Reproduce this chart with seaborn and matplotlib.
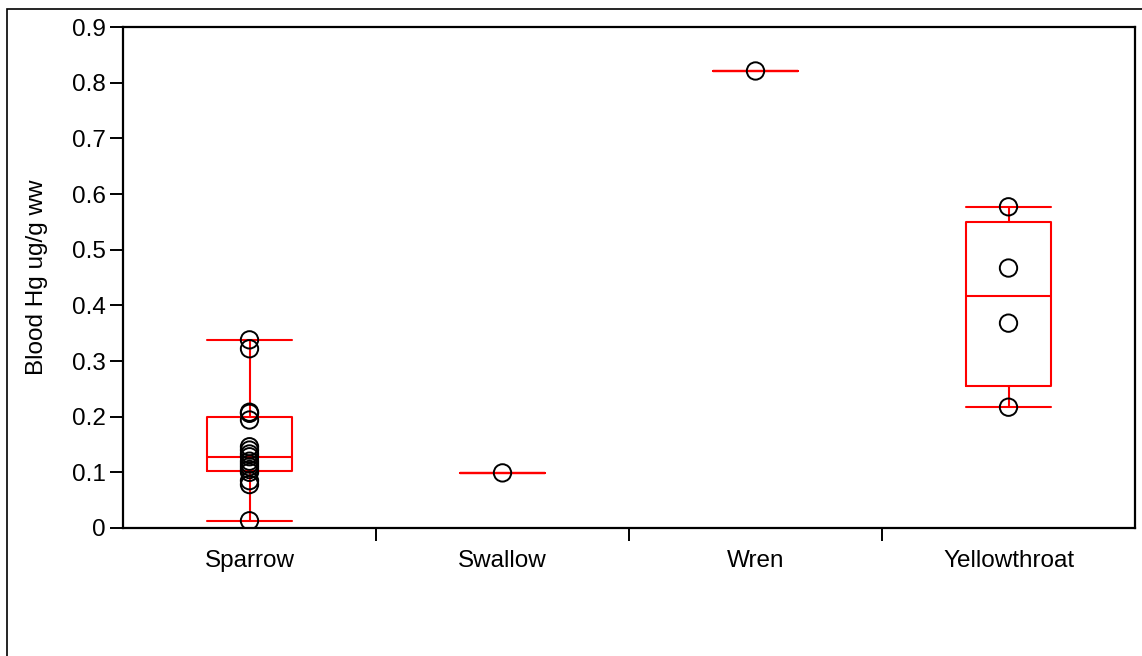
import numpy as np
import pandas as pd
import seaborn as sns
import matplotlib.pyplot as plt
from matplotlib.patches import Rectangle

species = ["Sparrow", "Swallow", "Wren", "Yellowthroat"]
sparrow = [0.013, 0.078, 0.085, 0.100, 0.105, 0.110, 0.115, 0.120, 0.128,
           0.133, 0.140, 0.146, 0.194, 0.206, 0.208, 0.322, 0.338]
swallow = [0.099]
wren = [0.821]
yellowthroat = [0.217, 0.368, 0.467, 0.577]
yticks = [0, 0.1, 0.2, 0.3, 0.4, 0.5, 0.6, 0.7, 0.8, 0.9]
ylabels = ["0", "0.1", "0.2", "0.3", "0.4", "0.5", "0.6", "0.7", "0.8", "0.9"]

values = {"Sparrow": sparrow, "Swallow": swallow, "Wren": wren,
          "Yellowthroat": yellowthroat}
pts = pd.DataFrame([(s, v) for s in species for v in values[s]],
                   columns=["species", "hg"])

# JMP uses (n+1)p quantiles; feed seaborn the 5-number summary so its
# linear quantiles land on the same box edges
rows = []
for s in species:
    q = np.percentile(values[s], [0, 25, 50, 75, 100], method="weibull")
    rows += [(s, v) for v in q]
summ = pd.DataFrame(rows, columns=["species", "hg"])

sns.set_theme(style="ticks")
plt.rcParams["font.family"] = ["Liberation Sans", "DejaVu Sans"]
plt.rcParams["text.color"] = "black"
plt.rcParams["axes.labelcolor"] = "black"
plt.rcParams["xtick.color"] = "black"
plt.rcParams["ytick.color"] = "black"

fig = plt.figure(figsize=(11.42, 6.56), dpi=100)
ax = fig.add_axes([123 / 1142, 1 - 528 / 656, (1135 - 123) / 1142, (528 - 27) / 656])

sns.boxplot(data=summ, x="species", y="hg", order=species, whis=(0, 100),
            width=0.336, fill=False, color="red", linewidth=1.5,
            showfliers=False, capwidths=0.336, ax=ax)
sns.stripplot(data=pts, x="species", y="hg", order=species, jitter=False,
              color="black", facecolor="none", edgecolor="black",
              linewidth=1.4, size=12.5, zorder=3, ax=ax)

ax.set_xlim(-0.5, 3.5)
ax.set_ylim(0, 0.9)
ax.set_yticks(yticks, ylabels)
ax.set_xticks(range(len(species)), species)
ax.set_xticks([0.5, 1.5, 2.5], minor=True)
ax.tick_params(axis="x", which="major", length=0, pad=16, labelsize=17.5)
ax.tick_params(axis="x", which="minor", length=9, width=1.4, direction="out")
ax.tick_params(axis="y", length=9.5, width=1.4, pad=3, labelsize=17.5,
               direction="out")
ax.set_xlabel("")
ax.set_ylabel("Blood Hg ug/g ww", fontsize=17.5, labelpad=17)
for sp in ax.spines.values():
    sp.set_visible(True)
    sp.set_linewidth(1.6)
    sp.set_color("black")

fig.add_artist(Rectangle((6.5 / 1142, -0.05), 1.0, 1.05 - 9.5 / 656,
                         transform=fig.transFigure, fill=False,
                         edgecolor="black", linewidth=1.2, clip_on=False))

fig.savefig("out.png", dpi=100)
